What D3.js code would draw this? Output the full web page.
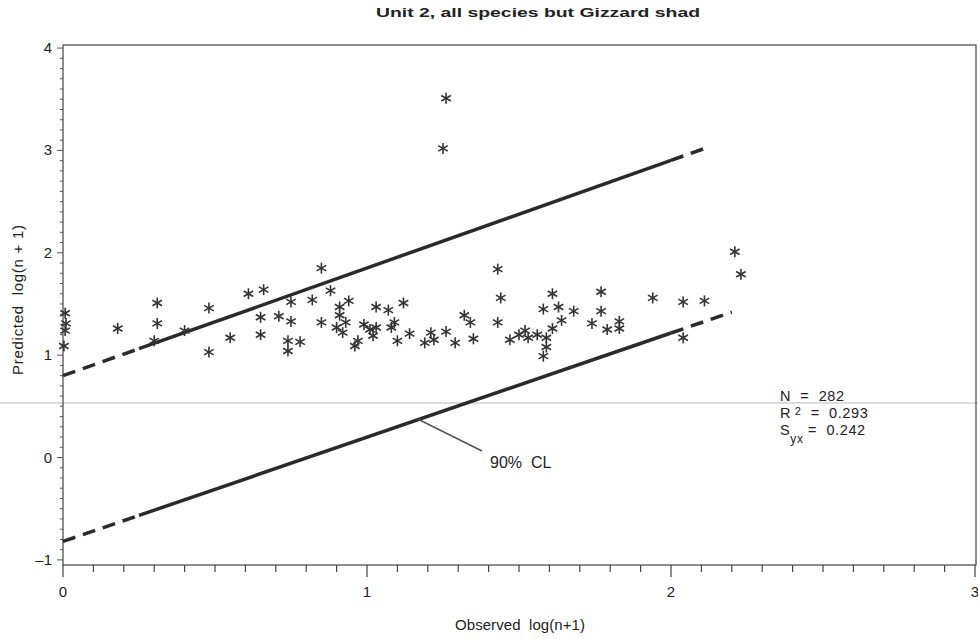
<!DOCTYPE html>
<html>
<head>
<meta charset="utf-8">
<script src="https://cdn.jsdelivr.net/npm/d3@7"></script>
<style>
body{margin:0;background:#fff;}
svg text{font-family:"Liberation Sans",Arial,sans-serif;fill:#222;white-space:pre;}
</style>
</head>
<body>
<div id="chart"></div>
<script>
// observed / predicted log(n+1)
var obsX = [0.007,0.01,0.007,0.003,0.18,0.31,0.31,0.30,0.40,0.48,0.48,0.55,0.61,0.66,0.85,0.88,0.75,0.82,0.65,0.71,
            0.75,0.65,0.74,0.78,0.74,0.85,0.91,0.94,0.91,0.93,0.90,0.92,0.97,0.96,1.03,1.07,1.12,1.03,1.02,1.08,
            1.10,1.09,1.14,1.21,1.19,1.26,1.29,1.35,1.32,1.34,1.43,1.44,1.43,1.47,1.50,1.53,1.52,1.61,1.58,1.63,
            1.68,1.64,1.61,1.59,1.59,1.58,1.77,1.77,1.74,1.83,1.83,1.79,1.94,2.04,2.11,2.04,2.21,2.23,1.26,1.25,
            0.99,1.01,1.22,1.56];
var predY = [1.41,1.31,1.24,1.09,1.26,1.51,1.31,1.14,1.24,1.46,1.03,1.17,1.60,1.64,1.85,1.63,1.52,1.54,1.37,1.38,
             1.33,1.20,1.14,1.13,1.04,1.32,1.47,1.53,1.39,1.32,1.27,1.22,1.14,1.09,1.47,1.44,1.51,1.27,1.19,1.27,
             1.14,1.32,1.21,1.22,1.12,1.23,1.12,1.16,1.39,1.32,1.84,1.56,1.32,1.15,1.20,1.17,1.24,1.60,1.45,1.47,
             1.43,1.34,1.26,1.17,1.08,0.99,1.62,1.43,1.31,1.33,1.26,1.25,1.56,1.52,1.53,1.17,2.01,1.79,3.51,3.02,
             1.30,1.25,1.15,1.20];

// 90% confidence limits: end points and where the dashes stop/start
var upperCL = [[0,0.80],[2.13,3.04]];
var lowerCL = [[0,-0.82],[2.2,1.42]];
var dashBreaks = [0.25,2.0];

var xTicks = [0,1,2,3];
var yTicks = [-1,0,1,2,3,4];
var stats = {n:"282", r2:"0.293", syx:"0.242"};

var width = 978, height = 639;
var margin = {top:45,right:2,bottom:74,left:63};

var svg = d3.select("#chart").append("svg")
    .attr("width",width)
    .attr("height",height);

var x = d3.scaleLinear().domain([0,3]).range([margin.left,975]);
var y = d3.scaleLinear().domain([-1.05,4.03]).range([height-margin.bottom,margin.top]);

// scan artifact line
svg.append("line")
    .attr("x1",0).attr("x2",width)
    .attr("y1",403).attr("y2",403)
    .style("stroke","#dcdcdc")
    .style("stroke-width",2);

// frame
svg.append("rect")
    .attr("x",margin.left)
    .attr("y",margin.top)
    .attr("width",976-margin.left)
    .attr("height",height-margin.bottom-margin.top)
    .style("fill","none")
    .style("stroke","#444")
    .style("stroke-width",1.2);

// x axis: major + minor ticks
var xMinor = d3.range(0,3.001,0.1);
svg.append("g").selectAll("line")
    .data(xMinor)
    .enter().append("line")
    .attr("x1",function(d){return x(d);})
    .attr("x2",function(d){return x(d);})
    .attr("y1",y.range()[0])
    .attr("y2",function(d){
        return y.range()[0] + (Math.abs(d-Math.round(d))<1e-6 ? 12 : 7);
    })
    .style("stroke","#444")
    .style("stroke-width",1.2);

svg.append("g").selectAll("text")
    .data(xTicks)
    .enter().append("text")
    .attr("x",function(d){return x(d);})
    .attr("y",597)
    .attr("text-anchor","middle")
    .style("font-size","15px")
    .text(function(d){return d;});

// y axis
var yMinor = d3.range(-1,4.001,0.1);
svg.append("g").selectAll("line")
    .data(yMinor)
    .enter().append("line")
    .attr("y1",function(d){return y(d);})
    .attr("y2",function(d){return y(d);})
    .attr("x1",margin.left)
    .attr("x2",function(d){
        return margin.left - (Math.abs(d-Math.round(d))<1e-6 ? 6 : 3);
    })
    .style("stroke","#555")
    .style("stroke-width",1);

svg.append("g").selectAll("text")
    .data(yTicks)
    .enter().append("text")
    .attr("x",52)
    .attr("y",function(d){return y(d)+5;})
    .attr("text-anchor","end")
    .style("font-size","15px")
    .text(function(d){return d<0 ? "\u2013"+Math.abs(d) : d;});

// titles
svg.append("text")
    .attr("x",538)
    .attr("y",17)
    .attr("text-anchor","middle")
    .style("font-size","13px")
    .style("font-weight","bold")
    .attr("textLength",324)
    .attr("lengthAdjust","spacingAndGlyphs")
    .text("Unit 2, all species but Gizzard shad");

svg.append("text")
    .attr("x",520)
    .attr("y",630)
    .attr("text-anchor","middle")
    .style("font-size","15px")
    .attr("textLength",130)
    .text("Observed  log(n+1)");

svg.append("text")
    .attr("transform","translate(23,300) rotate(-90)")
    .attr("text-anchor","middle")
    .style("font-size","15px")
    .attr("textLength",150)
    .text("Predicted  log(n + 1)");

// confidence limit lines, dashed at both ends
function drawCL(ends){
    var slope = (ends[1][1]-ends[0][1])/(ends[1][0]-ends[0][0]);
    var f = function(v){return ends[0][1] + slope*(v-ends[0][0]);};
    var parts = [
        {a:ends[0][0], b:dashBreaks[0], dash:true},
        {a:dashBreaks[0], b:dashBreaks[1], dash:false},
        {a:dashBreaks[1], b:ends[1][0], dash:true}
    ];
    parts.forEach(function(p){
        svg.append("line")
            .attr("x1",x(p.a)).attr("y1",y(f(p.a)))
            .attr("x2",x(p.b)).attr("y2",y(f(p.b)))
            .style("stroke","#2a2a2a")
            .style("stroke-width",3.5)
            .style("stroke-dasharray",p.dash ? "13,8" : null);
    });
}
drawCL(upperCL);
drawCL(lowerCL);

// leader for the CL label
var lx = 1.17;
var lslope = (lowerCL[1][1]-lowerCL[0][1])/(lowerCL[1][0]-lowerCL[0][0]);
svg.append("line")
    .attr("x1",x(lx)).attr("y1",y(lowerCL[0][1]+lslope*lx))
    .attr("x2",482).attr("y2",451)
    .style("stroke","#555")
    .style("stroke-width",1.5);

svg.append("text")
    .attr("x",490)
    .attr("y",468)
    .style("font-size","16px")
    .text("90%  CL");

// asterisk markers
var pts = obsX.map(function(d,i){return {x:d,y:predY[i]};});
var r = 5.5;
var star = svg.append("g").selectAll("g")
    .data(pts)
    .enter().append("g")
    .attr("transform",function(d){return "translate("+x(d.x)+","+y(d.y)+")";});
[0,60,120].forEach(function(a){
    var rad = a*Math.PI/180;
    star.append("line")
        .attr("x1",-r*Math.sin(rad)).attr("y1",-r*Math.cos(rad))
        .attr("x2",r*Math.sin(rad)).attr("y2",r*Math.cos(rad))
        .style("stroke","#333")
        .style("stroke-width",1.6);
});

// fit statistics
var st = svg.append("g").style("font-size","14.5px").style("letter-spacing","0.6px");
st.append("text").attr("x",780).attr("y",401).text("N  =  " + stats.n);
var r2 = st.append("text").attr("x",780).attr("y",418);
r2.append("tspan").text("R");
r2.append("tspan").attr("dy",-3).style("font-size","11px").text(" 2");
r2.append("tspan").attr("dy",3).text("  =  " + stats.r2);
var sy = st.append("text").attr("x",780).attr("y",435);
sy.append("tspan").text("S");
sy.append("tspan").attr("dy",8).style("font-size","12px").text("yx");
sy.append("tspan").attr("dy",-8).text(" =  " + stats.syx);
</script>
</body>
</html>
